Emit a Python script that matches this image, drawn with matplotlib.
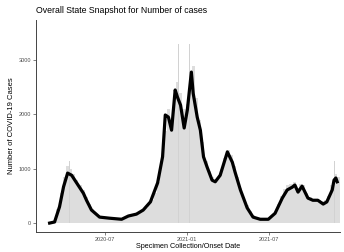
import numpy as np
import pandas as pd
import matplotlib
matplotlib.use("Agg")
import matplotlib.pyplot as plt
import matplotlib.dates as mdates

plt.rcParams['font.family'] = ['Liberation Sans', 'DejaVu Sans']

# weekly case counts (bars), weeks starting 2020-03-02
week_start = "2020-03-02"
week_cases = [10, 40, 250, 550, 850, 1050, 1000, 900, 800, 700,
              600, 480, 350, 260, 180, 140, 120, 110, 100, 95,
              90, 85, 80, 90, 120, 140, 150, 170, 190, 230,
              280, 350, 420, 550, 750, 1100, 1700, 2100, 1900, 2300,
              2600, 2400, 2100, 2200, 2700, 2900, 2300, 1900, 1500, 1150,
              950, 850, 800, 850, 1000, 1200, 1350, 1250, 1050, 850,
              650, 480, 330, 220, 140, 100, 80, 80, 85, 100,
              150, 230, 350, 500, 620, 700, 720, 760, 650, 720,
              700, 560, 480, 450, 450, 420, 400, 420, 500, 700,
              900, 850]

# single days that stick out above the rest
spike_dates = ["2020-04-08", "2020-04-14", "2020-11-19", "2020-12-12", "2020-12-16",
               "2021-01-06", "2021-01-11", "2021-03-30", "2021-08-20", "2021-11-24"]
spike_cases = [1250, 1150, 3200, 3300, 3000, 3300, 3700, 1550, 950, 1150]

# smoothed trend
trend_dates = ["2020-03-01", "2020-03-12", "2020-03-23", "2020-04-01", "2020-04-10",
               "2020-04-19", "2020-04-30", "2020-05-15", "2020-05-22", "2020-06-02",
               "2020-06-20", "2020-07-12", "2020-08-08", "2020-08-23", "2020-09-10",
               "2020-09-25", "2020-10-11", "2020-10-27", "2020-11-07", "2020-11-13",
               "2020-11-20", "2020-11-27", "2020-12-05", "2020-12-10", "2020-12-17",
               "2020-12-25", "2021-01-01", "2021-01-10", "2021-01-14", "2021-01-23",
               "2021-01-30", "2021-02-06", "2021-02-14", "2021-02-25", "2021-03-04",
               "2021-03-15", "2021-03-31", "2021-04-11", "2021-04-17", "2021-04-29",
               "2021-05-14", "2021-05-27", "2021-06-12", "2021-06-30", "2021-07-15",
               "2021-07-31", "2021-08-11", "2021-08-22", "2021-08-28", "2021-09-04",
               "2021-09-13", "2021-09-26", "2021-10-07", "2021-10-18", "2021-10-30",
               "2021-11-07", "2021-11-19", "2021-11-23", "2021-11-27", "2021-11-30"]
trend_cases = [0, 20, 300, 670, 920, 880, 740, 550, 420, 240,
               110, 90, 70, 130, 165, 240, 390, 740, 1220, 1990,
               1950, 1710, 2450, 2320, 2170, 1750, 2080, 2780, 2390, 1950,
               1710, 1220, 1030, 790, 760, 880, 1310, 1120, 940, 610,
               280, 110, 70, 70, 180, 460, 610, 660, 700, 570,
               680, 460, 420, 420, 350, 390, 610, 790, 830, 760]

weeks = pd.date_range(week_start, periods=len(week_cases), freq="7D")
spikes = pd.to_datetime(spike_dates)
trend_x = pd.to_datetime(trend_dates)

fig = plt.figure(figsize=(3.44, 2.52), dpi=100)
ax = fig.add_axes([0.105, 0.079, 0.883, 0.842])

ax.bar(weeks + pd.Timedelta(days=3.5), week_cases, width=7, color="#dddddd", linewidth=0)
ax.bar(spikes, spike_cases, width=0.8, color="#d2d2d2", linewidth=0)
ax.plot(trend_x, trend_cases, color="black", lw=2.3, solid_joinstyle="round")

ax.set_xlim(pd.Timestamp("2020-01-31"), pd.Timestamp("2021-12-06"))
ax.set_ylim(-166, 3740)
ax.set_yticks([0, 1000, 2000, 3000])
ax.set_xticks(pd.to_datetime(["2020-07-01", "2021-01-01", "2021-07-01"]))
ax.xaxis.set_major_formatter(mdates.DateFormatter("%Y-%m"))

for s in ["top", "right"]:
    ax.spines[s].set_visible(False)
for s in ["left", "bottom"]:
    ax.spines[s].set_color("#444444")
    ax.spines[s].set_linewidth(0.7)
ax.tick_params(labelsize=4, colors="#4d4d4d", length=2, width=0.5, pad=1.5)

ax.set_xlabel("Specimen Collection/Onset Date", fontsize=5.2, labelpad=1)
ax.set_ylabel("Number of COVID-19 Cases", fontsize=5.5, labelpad=3)
ax.set_title("Overall State Snapshot for Number of cases", fontsize=6.3, loc="left", pad=5)

fig.savefig("out.png", dpi=100)
